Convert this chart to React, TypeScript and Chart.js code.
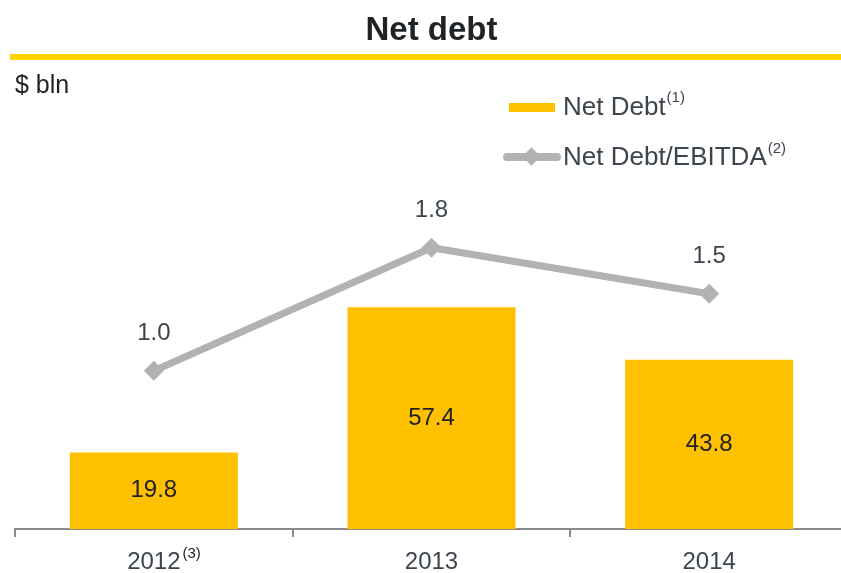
import React, { useEffect, useRef } from 'react';
import { Chart, registerables } from 'chart.js';

Chart.register(...registerables);

const categories = ['2012', '2013', '2014'];
const categoryNotes = ['(3)', '', ''];
const netDebt = [19.8, 57.4, 43.8];
const netDebtToEbitda = [1.0, 1.8, 1.5];

const FONT = '"Liberation Sans", Arial, Helvetica, sans-serif';
const TEXT = '#3c454d';
const YELLOW = '#FFC000';
const GRAY = '#B2B2B2';
const AXIS = '#8c8c8c';

const valueLabels = {
  id: 'valueLabels',
  afterDatasetsDraw(chart: any) {
    const ctx = chart.ctx;
    ctx.save();
    ctx.font = `24px ${FONT}`;
    ctx.textAlign = 'center';
    ctx.textBaseline = 'middle';
    const barMeta = chart.getDatasetMeta(1);
    barMeta.data.forEach((el: any, i: number) => {
      const p = el.getProps(['x', 'y', 'base'], true);
      ctx.fillStyle = '#222222';
      ctx.fillText(netDebt[i].toFixed(1), p.x, (p.y + p.base) / 2);
    });
    const lineMeta = chart.getDatasetMeta(0);
    lineMeta.data.forEach((el: any, i: number) => {
      ctx.fillStyle = TEXT;
      ctx.fillText(netDebtToEbitda[i].toFixed(1), el.x, el.y - 37);
    });
    const xs = chart.scales.x;
    categories.forEach((c, i) => {
      const note = categoryNotes[i];
      if (!note) return;
      ctx.font = `24px ${FONT}`;
      const w = ctx.measureText(c).width;
      ctx.font = `15px ${FONT}`;
      ctx.textAlign = 'left';
      ctx.textBaseline = 'alphabetic';
      ctx.fillStyle = '#222222';
      ctx.fillText(note, xs.getPixelForValue(i) + w / 2 + 2, chart.chartArea.bottom + 29);
    });
    ctx.restore();
  },
};

export default function App() {
  const ref = useRef<HTMLCanvasElement>(null);

  useEffect(() => {
    if (!ref.current) return;
    const chart = new Chart(ref.current, {
      type: 'bar',
      data: {
        labels: categories,
        datasets: [
          {
            type: 'line',
            label: 'Net Debt/EBITDA',
            data: netDebtToEbitda,
            yAxisID: 'y1',
            order: 0,
            borderColor: GRAY,
            backgroundColor: GRAY,
            borderWidth: 7,
            tension: 0,
            pointStyle: 'rectRot',
            pointRadius: 10,
            pointBorderWidth: 0,
            pointBackgroundColor: GRAY,
          } as any,
          {
            type: 'bar',
            label: 'Net Debt',
            data: netDebt,
            yAxisID: 'y',
            order: 1,
            backgroundColor: YELLOW,
            borderWidth: 0,
            barPercentage: 0.605,
            categoryPercentage: 1,
          } as any,
        ],
      },
      options: {
        responsive: false,
        animation: false,
        layout: { padding: { left: 15, right: 12, top: 100, bottom: 0 } },
        plugins: {
          legend: { display: false },
          tooltip: { enabled: false },
          title: { display: false },
        },
        scales: {
          x: {
            grid: {
              display: true,
              drawOnChartArea: false,
              drawTicks: true,
              tickLength: 8,
              color: AXIS,
              lineWidth: 2,
              offset: true,
            },
            border: { display: true, color: AXIS, width: 2 },
            ticks: { color: TEXT, font: { family: FONT, size: 24 }, padding: 11, maxRotation: 0 },
            afterFit: (s: any) => {
              s.height = 44;
            },
          },
          y: { display: false, min: 0, max: 111.1 },
          y1: { display: false, min: -0.03, max: 2.761, position: 'right' },
        },
      } as any,
      plugins: [valueLabels],
    });
    return () => chart.destroy();
  }, []);

  const abs = (o: React.CSSProperties): React.CSSProperties => ({ position: 'absolute', whiteSpace: 'nowrap', ...o });

  return (
    <div
      style={{
        position: 'fixed',
        left: 0,
        top: 0,
        width: 841,
        height: 573,
        overflow: 'hidden',
        background: '#fff',
        fontFamily: FONT,
      }}
    >
      <canvas ref={ref} width={860} height={573} style={abs({ left: 0, top: 0 })} />
      <div style={abs({ left: 0, width: 863, top: 12, textAlign: 'center', fontSize: 33, lineHeight: '33px', fontWeight: 'bold', color: '#1f2326' })}>
        Net debt
      </div>
      <div style={abs({ left: 10, top: 54, width: 831, height: 6, background: '#FFD200' })} />
      <div style={abs({ left: 15, top: 72, fontSize: 25, lineHeight: '25px', color: '#222222' })}>$ bln</div>

      <div style={abs({ left: 509, top: 103, width: 46, height: 9, background: YELLOW })} />
      <div style={abs({ left: 563, top: 93, fontSize: 26, lineHeight: '26px', color: TEXT })}>
        Net Debt
        <span style={{ position: 'relative', top: -13, fontSize: 15, marginLeft: 1 }}>(1)</span>
      </div>

      <div style={abs({ left: 503, top: 153, width: 58, height: 8, borderRadius: 4, background: GRAY })} />
      <div style={abs({ left: 525, top: 150, width: 13, height: 13, background: GRAY, transform: 'rotate(45deg)' })} />
      <div style={abs({ left: 563, top: 143, fontSize: 26, lineHeight: '26px', color: TEXT })}>
        Net Debt/EBITDA
        <span style={{ position: 'relative', top: -12, fontSize: 15, marginLeft: 1 }}>(2)</span>
      </div>
    </div>
  );
}
